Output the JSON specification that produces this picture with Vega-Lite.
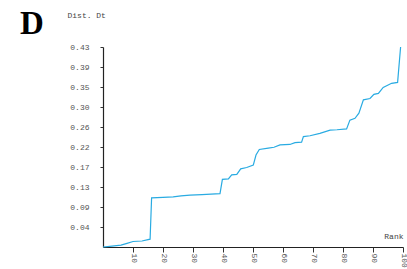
{
  "$schema": "https://vega.github.io/schema/vega-lite/v6.json",
  "width": 300,
  "height": 200,
  "autosize": "none",
  "padding": {"left": 103, "top": 47, "right": 4, "bottom": 22},
  "background": "white",
  "config": {"view": {"stroke": null}},
  "title": {"text": "D", "font": "Liberation Serif", "fontSize": 33, "fontWeight": "bold", "color": "#000", "anchor": "start", "frame": "group", "baseline": "alphabetic", "dx": -83, "dy": 60, "offset": 4},
  "data": {"values": [
    {"rank": 0, "dist": 0},
    {"rank": 3, "dist": 0.002},
    {"rank": 6, "dist": 0.004},
    {"rank": 8, "dist": 0.008},
    {"rank": 10, "dist": 0.012},
    {"rank": 13, "dist": 0.013},
    {"rank": 15.7, "dist": 0.017},
    {"rank": 16.2, "dist": 0.107},
    {"rank": 20, "dist": 0.108},
    {"rank": 23.4, "dist": 0.109},
    {"rank": 26, "dist": 0.111},
    {"rank": 29, "dist": 0.113},
    {"rank": 33, "dist": 0.114},
    {"rank": 36, "dist": 0.115},
    {"rank": 39, "dist": 0.116},
    {"rank": 39.8, "dist": 0.147},
    {"rank": 41.8, "dist": 0.148},
    {"rank": 42.9, "dist": 0.157},
    {"rank": 44.6, "dist": 0.158},
    {"rank": 45.9, "dist": 0.170},
    {"rank": 47.9, "dist": 0.173},
    {"rank": 50.1, "dist": 0.178},
    {"rank": 51, "dist": 0.200},
    {"rank": 52.1, "dist": 0.212},
    {"rank": 55.1, "dist": 0.215},
    {"rank": 57, "dist": 0.217},
    {"rank": 59, "dist": 0.222},
    {"rank": 62.3, "dist": 0.223},
    {"rank": 64, "dist": 0.227},
    {"rank": 66.2, "dist": 0.228},
    {"rank": 66.8, "dist": 0.240},
    {"rank": 69, "dist": 0.242},
    {"rank": 72.3, "dist": 0.247},
    {"rank": 75.7, "dist": 0.254},
    {"rank": 78, "dist": 0.255},
    {"rank": 81.2, "dist": 0.257},
    {"rank": 82.3, "dist": 0.276},
    {"rank": 84, "dist": 0.280},
    {"rank": 85.3, "dist": 0.291},
    {"rank": 86.8, "dist": 0.320},
    {"rank": 89, "dist": 0.323},
    {"rank": 90.3, "dist": 0.332},
    {"rank": 91.8, "dist": 0.334},
    {"rank": 93.4, "dist": 0.347},
    {"rank": 96.2, "dist": 0.356},
    {"rank": 98.2, "dist": 0.358},
    {"rank": 99.2, "dist": 0.435}
  ]},
  "mark": {"type": "line", "color": "#29abe2", "strokeWidth": 1.2, "clip": false},
  "encoding": {
    "x": {
      "field": "rank", "type": "quantitative",
      "scale": {"domain": [0, 100], "nice": false, "zero": false},
      "axis": {
        "title": "Rank", "titleFont": "Liberation Mono", "titleFontSize": 8, "titleFontWeight": "normal", "titleColor": "#444",
        "titleAlign": "right", "titleBaseline": "alphabetic", "titleX": 300, "titleY": -9, "titleAngle": 0,
        "values": [10, 20, 30, 40, 50, 60, 70, 80, 90, 100],
        "labelAngle": 90, "labelAlign": "left", "labelBaseline": "middle", "labelPadding": 1,
        "labelFont": "Liberation Mono", "labelFontSize": 8, "labelColor": "#555",
        "labelOverlap": false, "labelFlush": false, "labelBound": false,
        "tickSize": 5, "tickColor": "#333", "domainColor": "#222", "domainWidth": 1.2, "grid": false
      }
    },
    "y": {
      "field": "dist", "type": "quantitative",
      "scale": {"domain": [0, 0.435], "nice": false},
      "axis": {
        "title": "Dist. Dt", "titleFont": "Liberation Mono", "titleFontSize": 8, "titleFontWeight": "normal", "titleColor": "#444",
        "titleAngle": 0, "titleAlign": "left", "titleBaseline": "alphabetic", "titleX": -36, "titleY": -30,
        "values": [0.0435, 0.087, 0.1305, 0.174, 0.2175, 0.261, 0.3045, 0.348, 0.3915, 0.435],
        "labelExpr": "['','0.04','0.09','0.13','0.17','0.22','0.26','0.30','0.35','0.39','0.43'][round(datum.value/0.0435)]",
        "labelFont": "Liberation Mono", "labelFontSize": 8, "labelColor": "#555", "labelPadding": 11,
        "labelOverlap": false, "labelFlush": false, "labelBound": false,
        "tickSize": 3, "tickColor": "#333", "domainColor": "#222", "domainWidth": 1.2, "grid": false
      }
    }
  }
}
